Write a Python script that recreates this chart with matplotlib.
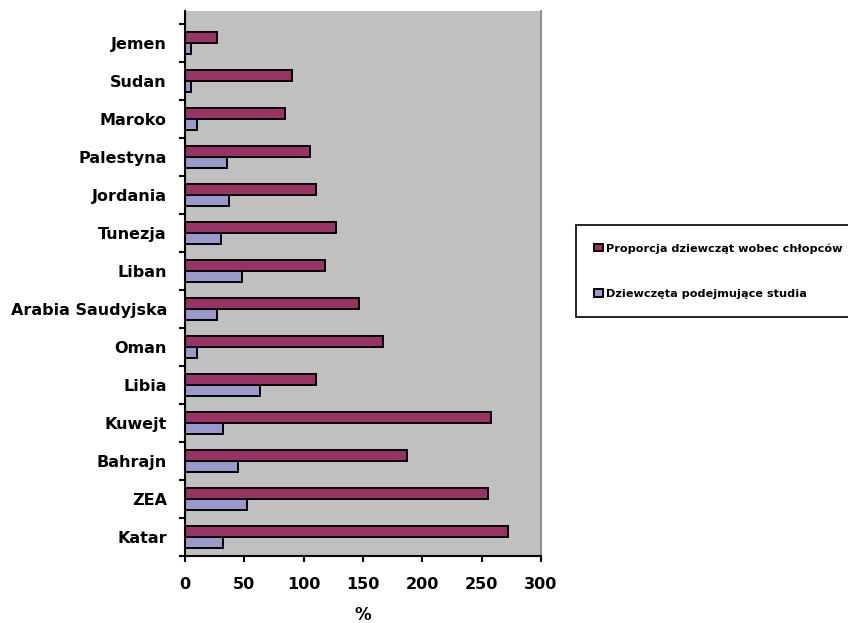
import matplotlib
matplotlib.use("Agg")
import matplotlib.pyplot as plt
import numpy as np

countries = ["Jemen", "Sudan", "Maroko", "Palestyna", "Jordania", "Tunezja", "Liban",
             "Arabia Saudyjska", "Oman", "Libia", "Kuwejt", "Bahrajn", "ZEA", "Katar"]
ratio_girls_boys = [27, 90, 84, 105, 110, 127, 118, 147, 167, 110, 258, 187, 255, 272]
girls_studying = [5, 5, 10, 35, 37, 30, 48, 27, 10, 63, 32, 45, 52, 32]
xticks = [0, 50, 100, 150, 200, 250, 300]
series_labels = ["Proporcja dziewcząt wobec chłopców", "Dziewczęta podejmujące studia"]

plt.rcParams['font.family'] = ['DejaVu Sans']

fig = plt.figure(figsize=(8.48, 6.23), dpi=100)
W, H = 848, 623
left, right, top, bottom = 185, 541, 11, 556
ax = fig.add_axes([left / W, 1 - bottom / H, (right - left) / W, (bottom - top) / H])
ax.set_facecolor("#C0C0C0")

n = len(countries)
pos = np.arange(n)
h = 0.29
b1 = ax.barh(pos - h / 2, ratio_girls_boys, height=h, color="#993366",
             edgecolor="black", linewidth=1.4, label=series_labels[0])
b2 = ax.barh(pos + h / 2, girls_studying, height=h, color="#9999CC",
             edgecolor="black", linewidth=1.4, label=series_labels[1])

ax.set_xlim(0, 300)
ax.set_ylim(n - 0.5, -0.5 - 13 / 38)
ax.set_xticks(xticks)
ax.set_xticklabels([str(v) for v in xticks], fontsize=11.5, fontweight="bold")
ax.set_yticks(pos)
ax.set_yticklabels(countries, fontsize=11.5, fontweight="bold")
ax.set_yticks(np.arange(-0.5, n, 1.0), minor=True)
ax.tick_params(axis="y", which="major", length=0, pad=13)
ax.tick_params(axis="y", which="minor", length=4, width=1.5, direction="out")
ax.tick_params(axis="x", which="major", length=4, width=1.5, direction="out", pad=11)
ax.set_xlabel("%", fontsize=12, fontweight="bold", labelpad=10)

ax.spines["top"].set_visible(False)
ax.spines["right"].set_color("#808080")
ax.spines["right"].set_linewidth(1.2)
ax.spines["left"].set_linewidth(1.5)
ax.spines["bottom"].set_linewidth(1.5)

leg = fig.legend(handles=[b1, b2], loc="upper left",
                 bbox_to_anchor=(576 / W, 1 - 225 / H), bbox_transform=fig.transFigure,
                 prop={"size": 8.1, "weight": "bold"}, frameon=True, fancybox=False,
                 edgecolor="black", framealpha=1, borderaxespad=0,
                 handlelength=0.8, handleheight=0.6, handletextpad=0.3,
                 borderpad=1.6, labelspacing=3.15)
leg.get_frame().set_linewidth(1.2)

fig.savefig("out.png", dpi=100)
